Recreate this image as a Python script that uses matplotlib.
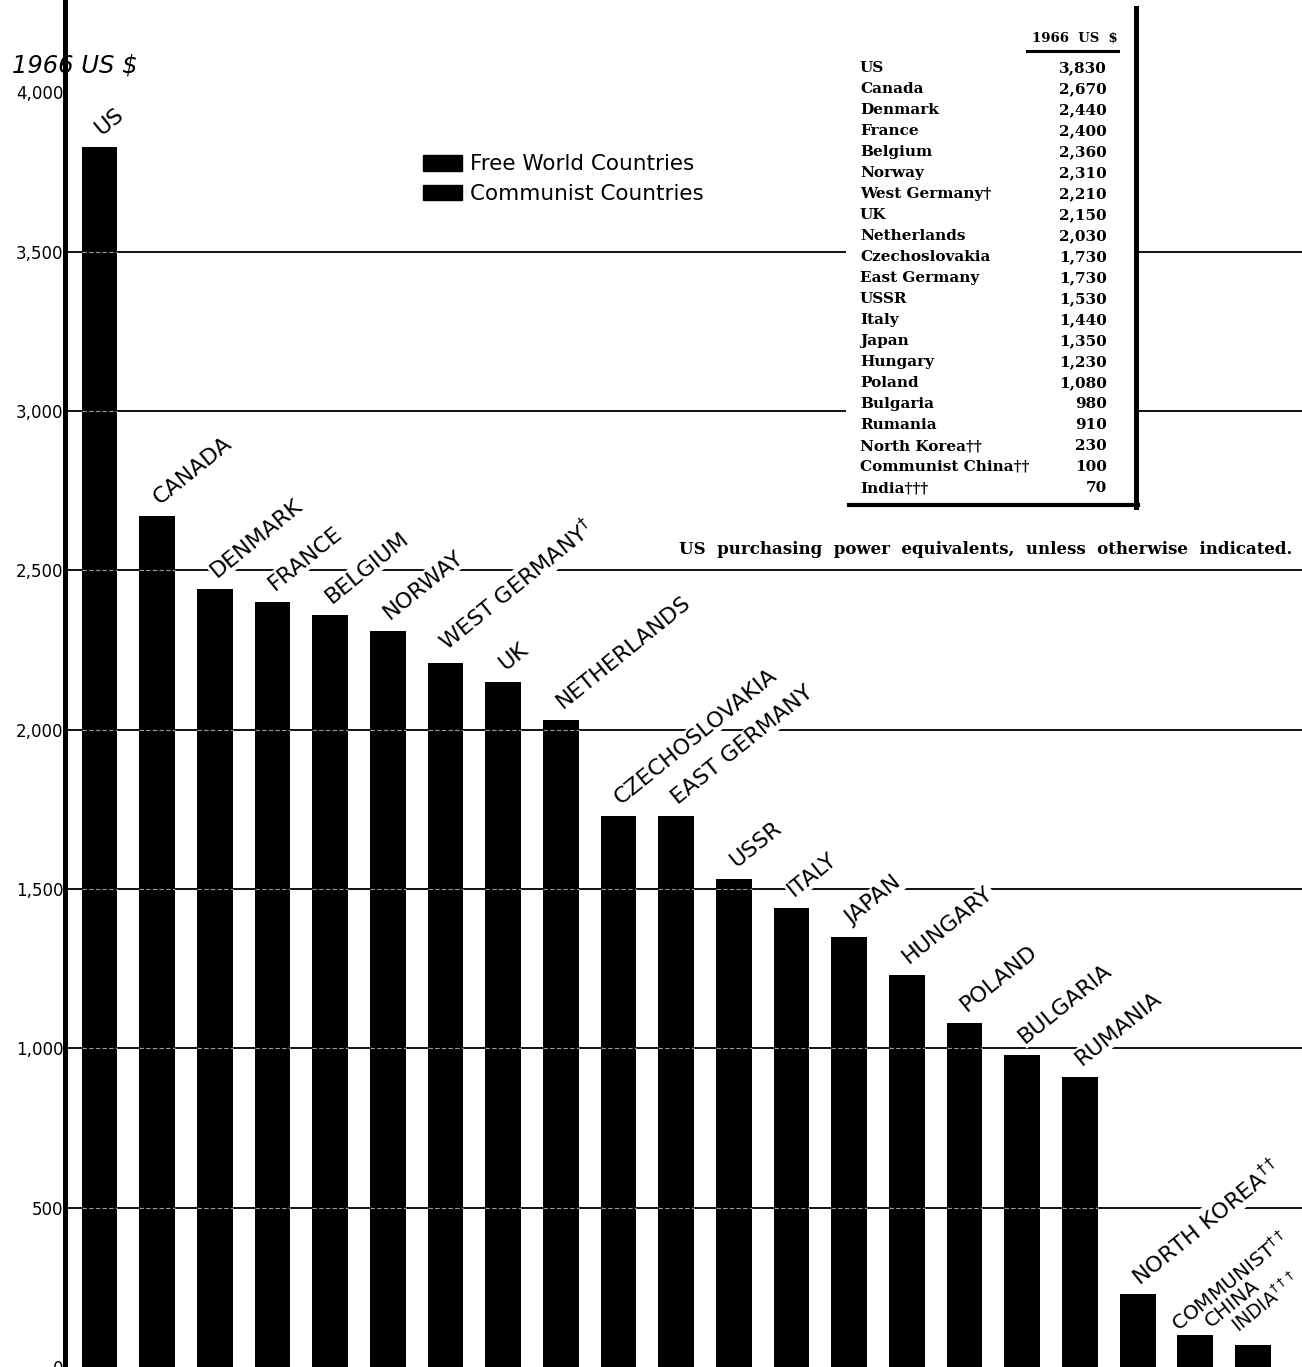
import numpy as np
import matplotlib
matplotlib.use("Agg")
import matplotlib.pyplot as plt
from matplotlib.patches import Patch, Rectangle
from matplotlib.lines import Line2D

# Per capita GNP, 1966 US $ (values from the inset table)
countries = ["US", "CANADA", "DENMARK", "FRANCE", "BELGIUM", "NORWAY",
             "WEST GERMANY$^{\\dagger}$", "UK", "NETHERLANDS", "CZECHOSLOVAKIA",
             "EAST GERMANY", "USSR", "ITALY", "JAPAN", "HUNGARY", "POLAND",
             "BULGARIA", "RUMANIA", "NORTH KOREA$^{\\dagger\\dagger}$",
             "COMMUNIST$^{\\dagger\\dagger}$", "INDIA$^{\\dagger\\dagger\\dagger}$"]
table_names = ["US", "Canada", "Denmark", "France", "Belgium", "Norway",
               "West Germany\u2020", "UK", "Netherlands", "Czechoslovakia",
               "East Germany", "USSR", "Italy", "Japan", "Hungary", "Poland",
               "Bulgaria", "Rumania", "North Korea\u2020\u2020",
               "Communist China\u2020\u2020", "India\u2020\u2020\u2020"]
gnp = [3830, 2670, 2440, 2400, 2360, 2310, 2210, 2150, 2030, 1730,
       1730, 1530, 1440, 1350, 1230, 1080, 980, 910, 230, 100, 70]
yticks = [0, 500, 1000, 1500, 2000, 2500, 3000, 3500, 4000]
grid_vals = [500, 1000, 1500, 2000, 2500, 3000, 3500]
legend_labels = ["Free World Countries", "Communist Countries"]

W, H = 1302, 1367
fig = plt.figure(figsize=(W / 100, H / 100), dpi=100)
fig.patch.set_facecolor("white")

def F(x, y):
    # pixel position -> figure fraction
    return x / W, 1 - y / H

ax = fig.add_axes([65 / W, 0, 1 - 65 / W, 1])
ax.set_xlim(-0.598, 20.85)
ax.set_ylim(0, 4290)

x = np.arange(len(gnp))
bw = 0.62
ax.bar(x, gnp, width=bw, color="black", zorder=2)

for g in grid_vals:
    ax.axhline(g, color="#111111", lw=1.4, zorder=1)
    # faint trace of the rule showing through the bars
    over = [i for i in x if gnp[i] > g]
    ax.hlines([g] * len(over), x[over] - bw / 2, x[over] + bw / 2,
              color="#9a9a9a", lw=0.8, linestyles=(0, (4, 2)), zorder=3)

for s in ["top", "right", "bottom"]:
    ax.spines[s].set_visible(False)
ax.spines["left"].set_linewidth(3.6)
ax.set_xticks([])
ax.set_yticks(yticks)
ax.set_yticklabels([f"{v:,}" for v in yticks], fontsize=12, family="DejaVu Sans")
ax.tick_params(axis="y", length=0, pad=1)

# slanted country labels
lab_kw = dict(rotation=39, rotation_mode="anchor", ha="left", va="baseline",
              family="DejaVu Sans", textcoords="offset pixels", zorder=4)
box = dict(fc="white", ec="none", pad=1.0)
offsets = {18: (20, 7), 19: (1, 3), 20: (4, 11)}
sizes = {19: 14.5, 20: 13.5}
for i, (name, v) in enumerate(zip(countries, gnp)):
    off = offsets.get(i, (20, 11))
    ax.annotate(name, xy=(x[i] - bw / 2, v), xytext=off,
                fontsize=sizes.get(i, 16),
                bbox=box if i < 19 else None, **lab_kw)
ax.annotate("CHINA", xy=(x[19] - bw / 2, gnp[19]), xytext=(33, 7),
            fontsize=14.5, **lab_kw)

fig.text(*F(12, 66), "1966 US $", fontsize=17.5, style="italic",
         family="DejaVu Sans", ha="left", va="center")

leg = ax.legend([Patch(fc="black", ec="black"), Patch(fc="black", ec="black")],
                legend_labels, loc="upper left", bbox_to_anchor=F(406, 137),
                bbox_transform=fig.transFigure, frameon=False, fontsize=15.5,
                handlelength=1.8, handleheight=0.75, handletextpad=0.35,
                labelspacing=0.45, borderpad=0.3)

# inset table
fig.patches.append(Rectangle(F(846, 507), (1136 - 846) / W, (507 - 8) / H,
                             transform=fig.transFigure, fc="white", ec="none",
                             zorder=2))
fig.lines.append(Line2D([F(1136, 8)[0], F(1136, 507)[0]],
                        [F(1136, 8)[1], F(1136, 507)[1]],
                        transform=fig.transFigure, color="black", lw=3.6,
                        zorder=3))
fig.lines.append(Line2D([F(849, 505)[0], F(1138, 505)[0]],
                        [F(849, 505)[1], F(1138, 505)[1]],
                        transform=fig.transFigure, color="black", lw=3.0,
                        zorder=3))
fig.lines.append(Line2D([F(1027, 51)[0], F(1118, 51)[0]],
                        [F(1027, 51)[1], F(1118, 51)[1]],
                        transform=fig.transFigure, color="black", lw=2.2,
                        zorder=3))
tkw = dict(family="DejaVu Serif", weight="bold", fontsize=11, zorder=4,
           va="center")
fig.text(*F(1118, 38), "1966  US  $", ha="right", **dict(tkw, fontsize=9.5))
for k, (nm, v) in enumerate(zip(table_names, gnp)):
    yy = 68 + k * 21
    fig.text(*F(860, yy), nm, ha="left", **tkw)
    fig.text(*F(1107, yy), f"{v:,}", ha="right", **tkw)

fig.text(*F(1292, 549),
         "US  purchasing  power  equivalents,  unless  otherwise  indicated.",
         ha="right", va="center", family="DejaVu Serif", weight="bold",
         fontsize=12)

fig.savefig("out.png", dpi=100)
